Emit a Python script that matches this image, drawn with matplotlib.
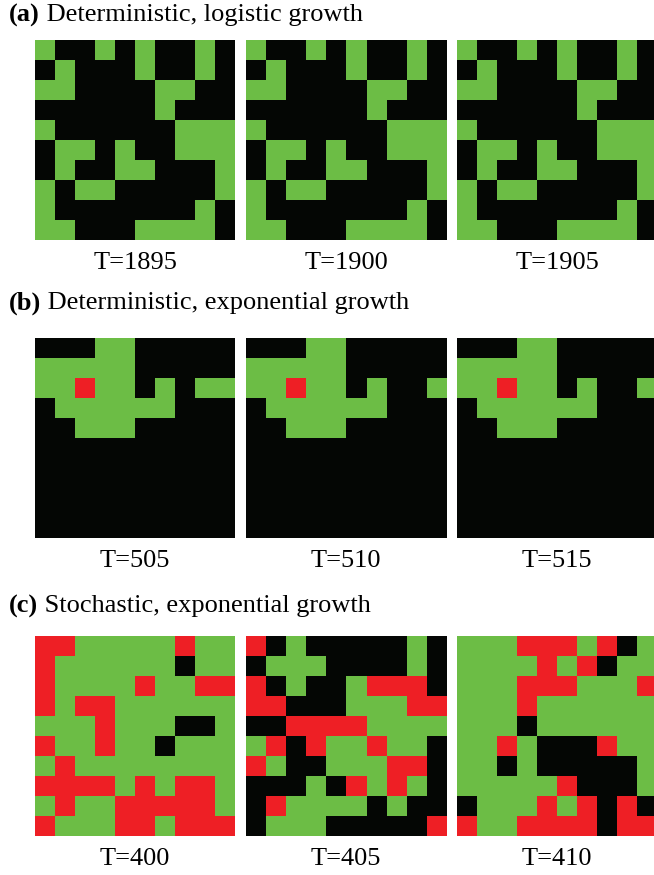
import matplotlib
matplotlib.use("Agg")
import matplotlib.pyplot as plt
import numpy as np
from matplotlib.colors import ListedColormap

# Cell states: 0 = empty, 1 = healthy (green), 2 = infected (red)
STATE_COLORS = ["#040604", "#6cbd45", "#ee1f25"]

row_titles = [
    ("(a)", " Deterministic, logistic growth"),
    ("(b)", " Deterministic, exponential growth"),
    ("(c)", " Stochastic, exponential growth"),
]
time_labels = [
    ["T=1895", "T=1900", "T=1905"],
    ["T=505", "T=510", "T=515"],
    ["T=400", "T=405", "T=410"],
]

logistic_grid = [
    "1001010010",
    "0100010010",
    "1100001100",
    "0000001000",
    "1000000111",
    "0110100111",
    "0100110001",
    "1011000001",
    "1000000010",
    "1100011110",
]
grid_a_1895 = logistic_grid
grid_a_1900 = logistic_grid
grid_a_1905 = logistic_grid

grid_b_505 = [
    "0001100000",
    "1111100000",
    "1121101011",
    "0111111000",
    "0011100000",
    "0000000000",
    "0000000000",
    "0000000000",
    "0000000000",
    "0000000000",
]
grid_b_510 = [
    "0001100000",
    "1111100000",
    "1121101001",
    "0111111000",
    "0011100000",
    "0000000000",
    "0000000000",
    "0000000000",
    "0000000000",
    "0000000000",
]
grid_b_515 = grid_b_510

grid_c_400 = [
    "2211111211",
    "2111111011",
    "2111121122",
    "2122111111",
    "1112111001",
    "2112110111",
    "1211111111",
    "2222121221",
    "1211222221",
    "2111221222",
]
grid_c_405 = [
    "2010000010",
    "0111000010",
    "2010012220",
    "2200011122",
    "0022221111",
    "1202112110",
    "2100111220",
    "0001021210",
    "0211110100",
    "0111000002",
]
grid_c_410 = [
    "1112221201",
    "1111212011",
    "1112221112",
    "1112111111",
    "1110111111",
    "1121000211",
    "1101000001",
    "1111120001",
    "0111212020",
    "2112222022",
]

grids = [
    [grid_a_1895, grid_a_1900, grid_a_1905],
    [grid_b_505, grid_b_510, grid_b_515],
    [grid_c_400, grid_c_405, grid_c_410],
]


def to_array(rows):
    return np.array([[int(ch) for ch in r] for r in rows])


W, H = 654, 875
fig = plt.figure(figsize=(W / 100, H / 100), dpi=100)
fig.patch.set_facecolor("white")

serif = ["Liberation Serif", "DejaVu Serif"]
cmap = ListedColormap(STATE_COLORS)

panel_left = [35, 246, 457]
panel_size = 200
row_top = [40, 338, 636]
title_y = [15, 303, 606]
label_y = [263, 561, 859]
FS = 19

renderer = fig.canvas.get_renderer()

for r in range(3):
    # Section heading: bold tag followed by plain description
    tag = fig.text(9 / W, 1 - title_y[r] / H, row_titles[r][0], family=serif,
                   fontweight="bold", fontsize=FS, va="center", ha="left")
    bb = tag.get_window_extent(renderer=renderer)
    fig.text(bb.x1 / W, 1 - title_y[r] / H, row_titles[r][1], family=serif,
             fontsize=FS, va="center", ha="left")
    for c in range(3):
        x0 = panel_left[c]
        y0 = row_top[r]
        ax = fig.add_axes([x0 / W, 1 - (y0 + panel_size) / H,
                           panel_size / W, panel_size / H])
        ax.imshow(to_array(grids[r][c]), cmap=cmap, vmin=0, vmax=2,
                  interpolation="nearest", aspect="auto")
        ax.set_axis_off()
        fig.text((x0 + panel_size / 2) / W, 1 - label_y[r] / H,
                 time_labels[r][c], family=serif, fontsize=FS,
                 ha="center", va="center")

fig.savefig("out.png", dpi=100, facecolor="white")
